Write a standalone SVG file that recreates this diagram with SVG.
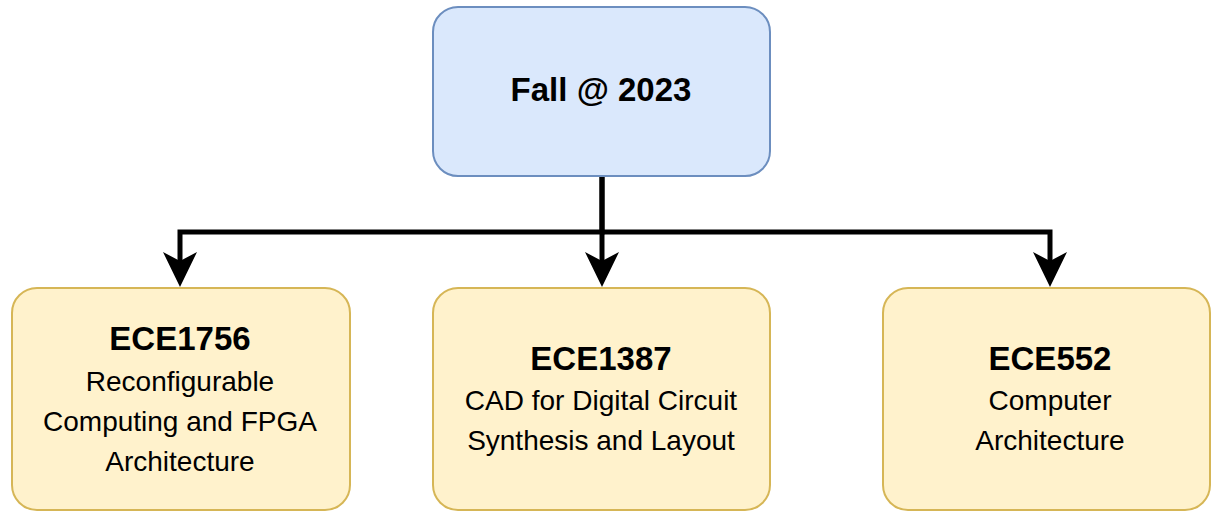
<svg xmlns="http://www.w3.org/2000/svg" width="1211" height="512" viewBox="0 0 1211 512">
<style>
.top{fill:#dae8fc;stroke:#6c8ebf;stroke-width:2}
.box{fill:#fff2cc;stroke:#d6b656;stroke-width:2}
.t{font-family:"Liberation Sans",Arial,sans-serif;fill:#000;text-anchor:middle}
.h{font-size:33px;font-weight:bold}
.b{font-size:28px}
.e{stroke:#000;stroke-width:5;fill:none}
</style>
<g id="connectors">
<path class="e" d="M602,177 V232 H180 V262"/>
<path class="e" d="M602,177 V262"/>
<path class="e" d="M602,232 H1050 V262"/>
<path d="M163,252 L180,287 L197,252 L180,261 Z" fill="#000"/>
<path d="M585,252 L602,287 L619,252 L602,261 Z" fill="#000"/>
<path d="M1033,252 L1050,287 L1067,252 L1050,261 Z" fill="#000"/>
</g>
<g id="fall">
<rect class="top" x="433" y="7" width="337" height="169" rx="25"/>
<text class="t h" x="601" y="101">Fall @ 2023</text>
</g>
<g id="ece1756">
<rect class="box" x="12" y="288" width="338" height="222" rx="25"/>
<text class="t h" x="180" y="350">ECE1756</text>
<text class="t b" x="180" y="391">Reconfigurable</text>
<text class="t b" x="180" y="431">Computing and FPGA</text>
<text class="t b" x="180" y="471">Architecture</text>
</g>
<g id="ece1387">
<rect class="box" x="433" y="288" width="337" height="222" rx="25"/>
<text class="t h" x="601" y="370">ECE1387</text>
<text class="t b" x="601" y="410">CAD for Digital Circuit</text>
<text class="t b" x="601" y="450">Synthesis and Layout</text>
</g>
<g id="ece552">
<rect class="box" x="883" y="288" width="327" height="222" rx="25"/>
<text class="t h" x="1050" y="370">ECE552</text>
<text class="t b" x="1050" y="410">Computer</text>
<text class="t b" x="1050" y="450">Architecture</text>
</g>
</svg>
